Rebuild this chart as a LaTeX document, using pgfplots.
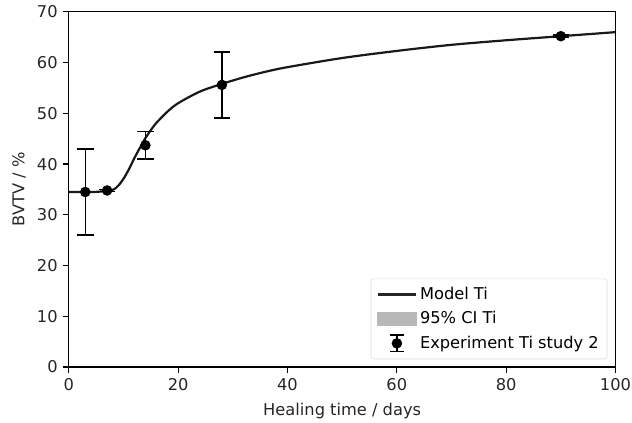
\documentclass[border=0pt]{standalone}
\usepackage{fontspec}
\setmainfont{DejaVu Sans}
\usepackage{pgfplots}
\pgfplotsset{compat=1.18}

\begin{document}
\fontsize{11.8}{14}\selectfont
\begin{tikzpicture}
\begin{axis}[
  name=ax,
  scale only axis,
  width=397pt, height=258pt,
  xmin=0, xmax=100, ymin=0, ymax=70,
  xtick={0,20,40,60,80,100},
  ytick={0,10,20,30,40,50,60,70},
  tick pos=left,
  tick align=outside,
  major tick length=4pt,
  axis line style={line width=0.9pt},
  tick style={line width=0.9pt, black},
  /pgf/number format/assume math mode=true,
  tick label style={font=\fontsize{11.8}{14}\selectfont, text=black!85},
  label style={font=\fontsize{11.8}{14}\selectfont, text=black!85},
  xlabel={Healing time / days},
  ylabel={BVTV / \%},
  xlabel style={yshift=-1pt},
  legend cell align=left,
  legend style={
    at={(0.985,0.022)}, anchor=south east,
    draw=black!15, rounded corners=2pt,
    font=\fontsize{11.8}{14}\selectfont,
    row sep=3pt, inner xsep=4pt, inner ysep=4pt,
  },
]
% model curve
\addplot[black!90, line width=1.6pt, smooth,
  legend image code/.code={\draw[black!85, line width=1.6pt, sharp corners] (0pt,0pt) -- (28pt,0pt);}
] coordinates {
  (0,34.5) (4,34.5) (6,34.6) (8,34.9) (9,35.7) (10,37.1) (11,39.0)
  (12,41.2) (13,43.2) (14,45.1) (15,46.7) (16,48.1) (18,50.3) (20,52.0)
  (24,54.3) (28,55.8) (32,57.1) (36,58.2) (40,59.1) (50,60.9) (60,62.3)
  (70,63.5) (80,64.4) (90,65.2) (100,66.0)
};
\addlegendentry{Model Ti}
\addlegendimage{legend image code/.code={\fill[black!28, sharp corners] (0pt,-4.5pt) rectangle (28pt,4.5pt);}}
\addlegendentry{95\% CI Ti}
% experiment
\addplot[black, only marks, mark=*, mark size=3.6pt,
  legend image code/.code={
    \draw[black, line width=1pt, sharp corners] (14pt,-6pt) -- (14pt,6pt)
      (9pt,-6pt) -- (19pt,-6pt) (9pt,6pt) -- (19pt,6pt);
    \fill[black] (14pt,0pt) circle (3.6pt);},
  error bars/.cd, y dir=both, y explicit,
  error bar style={line width=1pt},
  error mark options={rotate=90, mark size=6pt, line width=1pt},
] coordinates {
  (3,34.5) +- (0,8.5)
  (7,34.8) +- (0,0.2)
  (14,43.7) +- (0,2.7)
  (28,55.6) +- (0,6.5)
  (90,65.2) +- (0,0.2)
};
\addlegendentry{Experiment Ti study 2}
\end{axis}
\pgfresetboundingbox
\path ([xshift=-50pt, yshift=-40.3pt]ax.south west) rectangle ([xshift=12pt, yshift=8.6pt]ax.north east);
\end{tikzpicture}
\end{document}
